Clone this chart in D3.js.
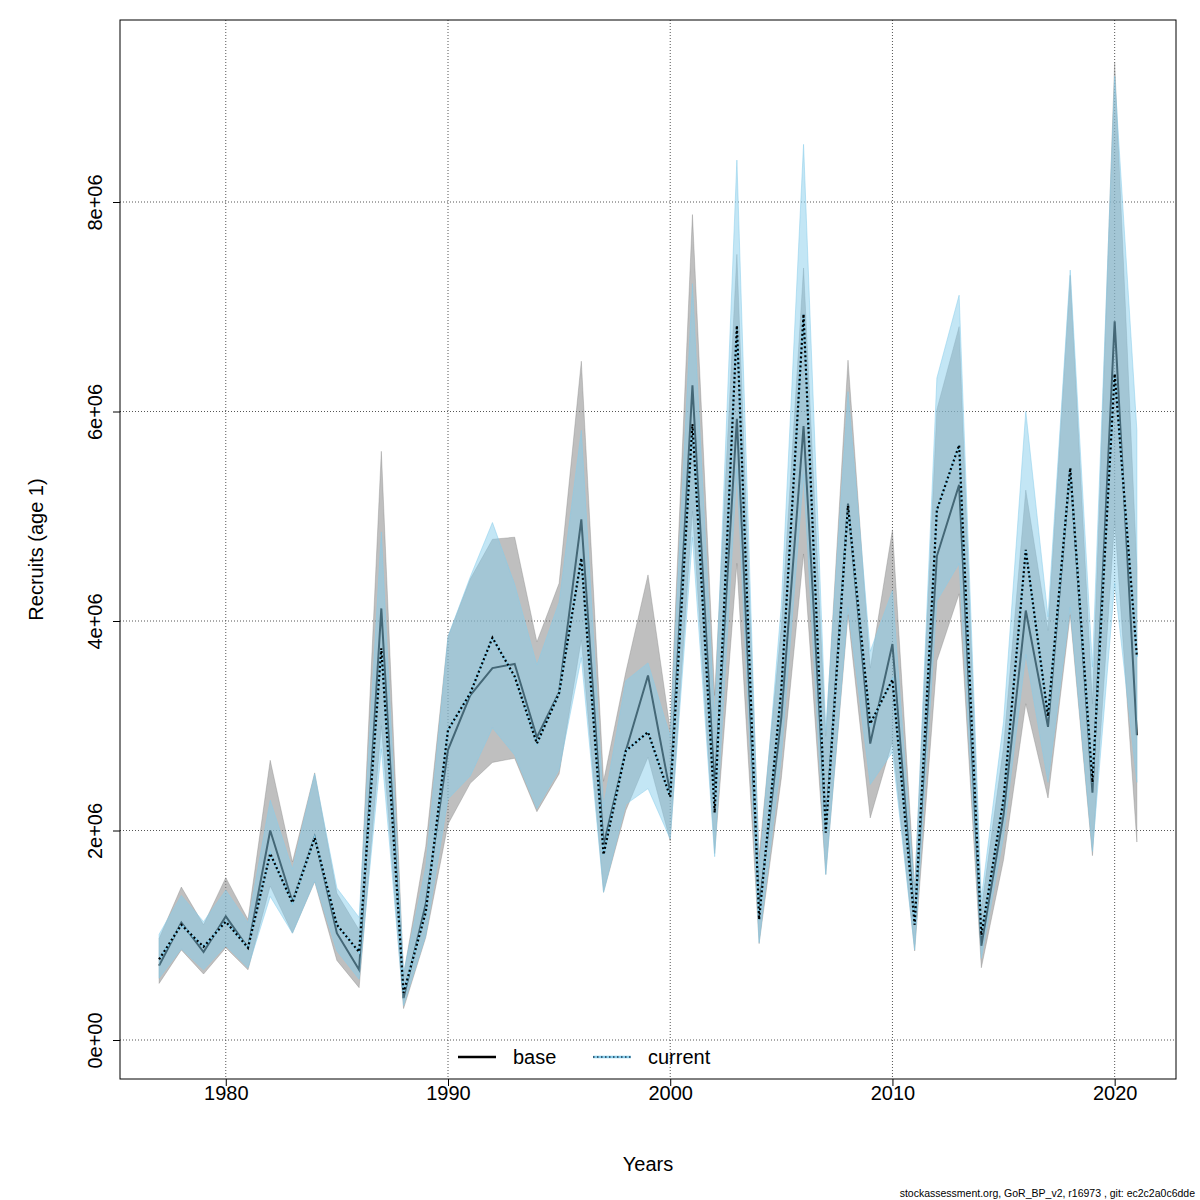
<!DOCTYPE html>
<html>
<head>
<meta charset="utf-8">
<script src="https://cdn.jsdelivr.net/npm/d3@7"></script>
<style>
  body { margin: 0; background: #fff; }
  svg { font-family: "Liberation Sans", Arial, sans-serif; }
</style>
</head>
<body>
<svg id="chart" width="1200" height="1200"></svg>
<script>
// recruitment estimates (millions), base vs current run
const years = d3.range(1977, 2022);
const baseEst  = [0.71,1.12,0.84,1.18,0.88,2.00,1.32,1.94,1.02,0.67,4.12,0.40,1.30,2.77,3.29,3.55,3.59,2.89,3.32,4.97,1.86,2.76,3.48,2.36,6.25,2.40,5.93,1.25,3.08,5.86,2.02,5.12,2.83,3.78,1.12,4.62,5.30,0.90,2.15,4.10,2.99,5.46,2.36,6.86,2.91];
const baseLow  = [0.54,0.86,0.63,0.88,0.67,1.47,1.02,1.51,0.76,0.50,3.00,0.30,0.98,2.06,2.45,2.65,2.69,2.18,2.54,3.82,1.41,2.19,2.70,1.90,5.05,1.78,4.55,0.92,2.50,4.64,1.58,4.06,2.12,2.85,0.85,3.62,4.26,0.69,1.72,3.21,2.31,4.06,1.76,4.96,1.89];
const baseHigh = [0.97,1.46,1.10,1.55,1.15,2.67,1.70,2.55,1.40,1.05,5.62,0.62,1.85,3.85,4.40,4.78,4.80,3.80,4.36,6.48,2.47,3.51,4.44,2.96,7.88,3.29,7.50,1.75,3.95,7.37,2.90,6.49,3.55,4.87,1.45,6.02,6.81,1.25,2.80,5.25,3.91,7.30,3.21,9.33,4.50];
const curEst   = [0.77,1.10,0.89,1.13,0.88,1.78,1.31,1.93,1.10,0.84,3.74,0.45,1.22,2.96,3.31,3.84,3.47,2.83,3.31,4.60,1.77,2.76,2.94,2.32,5.88,2.17,6.82,1.15,3.35,6.93,1.98,5.10,3.02,3.44,1.10,5.06,5.68,1.00,2.30,4.68,3.09,5.46,2.46,6.36,3.66];
const curLow   = [0.59,0.87,0.67,0.90,0.69,1.37,1.02,1.52,0.85,0.58,2.78,0.33,1.00,2.30,2.52,2.98,2.72,2.21,2.58,3.65,1.41,2.25,2.40,1.92,4.80,1.75,5.45,0.93,2.70,5.40,1.58,4.13,2.44,2.75,0.86,4.19,4.55,0.78,1.94,3.68,2.46,4.13,1.80,4.36,2.46];
const curHigh  = [1.01,1.38,1.13,1.43,1.12,2.29,1.63,2.54,1.45,1.17,4.85,0.64,1.65,3.85,4.42,4.94,4.35,3.58,4.18,5.82,2.23,3.43,3.60,2.90,7.22,3.05,8.40,1.60,4.15,8.55,2.95,6.19,3.71,4.29,1.40,6.32,7.11,1.35,3.04,6.00,4.04,7.35,3.56,9.20,5.82];

const xTicks = [1980, 1990, 2000, 2010, 2020];
const yTicks = [0, 2e6, 4e6, 6e6, 8e6];
const yTickLabels = ["0e+00", "2e+06", "4e+06", "6e+06", "8e+06"];

const svg = d3.select("#chart"),
  pLeft = 120, pRight = 1176, pTop = 20, pBottom = 1079;

const x = d3.scaleLinear().domain([1975.24, 2022.76]).range([pLeft, pRight]);
const y = d3.scaleLinear().domain([-0.3723e6, 9.7375e6]).range([pBottom, pTop]);

const rows = years.map((yr, i) => ({
  year: yr,
  base: baseEst[i] * 1e6, bLo: baseLow[i] * 1e6, bHi: baseHigh[i] * 1e6,
  cur: curEst[i] * 1e6, cLo: curLow[i] * 1e6, cHi: curHigh[i] * 1e6
}));

// grid
svg.append("g").selectAll("line").data(xTicks).join("line")
  .attr("x1", d => x(d)).attr("x2", d => x(d))
  .attr("y1", pTop).attr("y2", pBottom)
  .attr("stroke", "#555").attr("stroke-width", 1).attr("stroke-dasharray", "1,2");
svg.append("g").selectAll("line").data(yTicks).join("line")
  .attr("x1", pLeft).attr("x2", pRight)
  .attr("y1", d => y(d)).attr("y2", d => y(d))
  .attr("stroke", "#555").attr("stroke-width", 1).attr("stroke-dasharray", "1,2");

const area = (lo, hi) => d3.area().x(d => x(d.year)).y0(d => y(d[lo])).y1(d => y(d[hi]));
const line = key => d3.line().x(d => x(d.year)).y(d => y(d[key]));

// base band + line
svg.append("path").datum(rows)
  .attr("d", area("bLo", "bHi"))
  .attr("fill", "rgb(128,128,128)").attr("fill-opacity", 0.5)
  .attr("stroke", "rgb(128,128,128)").attr("stroke-opacity", 0.35).attr("stroke-width", 1);
svg.append("path").datum(rows)
  .attr("d", line("base"))
  .attr("fill", "none").attr("stroke", "#000").attr("stroke-width", 2);

// current band + line
svg.append("path").datum(rows)
  .attr("d", area("cLo", "cHi"))
  .attr("fill", "rgb(135,206,235)").attr("fill-opacity", 0.5)
  .attr("stroke", "rgb(135,206,235)").attr("stroke-opacity", 0.5).attr("stroke-width", 1);
svg.append("path").datum(rows)
  .attr("d", line("cur"))
  .attr("fill", "none").attr("stroke", "rgb(135,206,235)").attr("stroke-width", 2);
svg.append("path").datum(rows)
  .attr("d", line("cur"))
  .attr("fill", "none").attr("stroke", "#000").attr("stroke-width", 2.2)
  .attr("stroke-dasharray", "2,2.5");

// box
svg.append("rect")
  .attr("x", pLeft).attr("y", pTop)
  .attr("width", pRight - pLeft).attr("height", pBottom - pTop)
  .attr("fill", "none").attr("stroke", "#000").attr("stroke-width", 1);

// axes
const xAxis = svg.append("g")
  .attr("transform", `translate(0,${pBottom})`)
  .call(d3.axisBottom(x).tickValues(xTicks).tickFormat(d3.format("d")).tickSizeOuter(0).tickSize(7).tickPadding(0));
xAxis.select(".domain").remove();
xAxis.selectAll("text").attr("font-size", 20).attr("fill", "#000").attr("font-family", "Liberation Sans, Arial, sans-serif");

const yAxis = svg.append("g")
  .attr("transform", `translate(${pLeft},0)`)
  .call(d3.axisLeft(y).tickValues(yTicks).tickFormat((d, i) => yTickLabels[i]).tickSizeOuter(0).tickSize(7));
yAxis.select(".domain").remove();
yAxis.selectAll("text")
  .attr("font-size", 20).attr("fill", "#000").attr("font-family", "Liberation Sans, Arial, sans-serif")
  .attr("text-anchor", "middle").attr("dy", null)
  .attr("x", 0).attr("y", 0)
  .attr("transform", "translate(-18,0) rotate(-90)");

// titles
svg.append("text")
  .attr("x", (pLeft + pRight) / 2).attr("y", 1171)
  .attr("text-anchor", "middle").attr("font-size", 20)
  .text("Years");
svg.append("text")
  .attr("transform", `translate(43,${(pTop + pBottom) / 2}) rotate(-90)`)
  .attr("text-anchor", "middle").attr("font-size", 20)
  .text("Recruits (age 1)");

// legend
const leg = svg.append("g").attr("transform", "translate(0,1057)");
leg.append("line").attr("x1", 458).attr("x2", 496).attr("y1", 0).attr("y2", 0)
  .attr("stroke", "#000").attr("stroke-width", 2.5);
leg.append("text").attr("x", 513).attr("y", 7).attr("font-size", 20).text("base");
leg.append("line").attr("x1", 593).attr("x2", 631).attr("y1", 0).attr("y2", 0)
  .attr("stroke", "rgb(135,206,235)").attr("stroke-width", 2.5);
leg.append("line").attr("x1", 593).attr("x2", 631).attr("y1", 0).attr("y2", 0)
  .attr("stroke", "#1a3a55").attr("stroke-width", 1.5).attr("stroke-dasharray", "1.5,2.5");
leg.append("text").attr("x", 648).attr("y", 7).attr("font-size", 20).text("current");

// footer
svg.append("text")
  .attr("x", 1195).attr("y", 1197)
  .attr("text-anchor", "end").attr("font-size", 10.5)
  .text("stockassessment.org, GoR_BP_v2, r16973 , git: ec2c2a0c6dde");
</script>
</body>
</html>
